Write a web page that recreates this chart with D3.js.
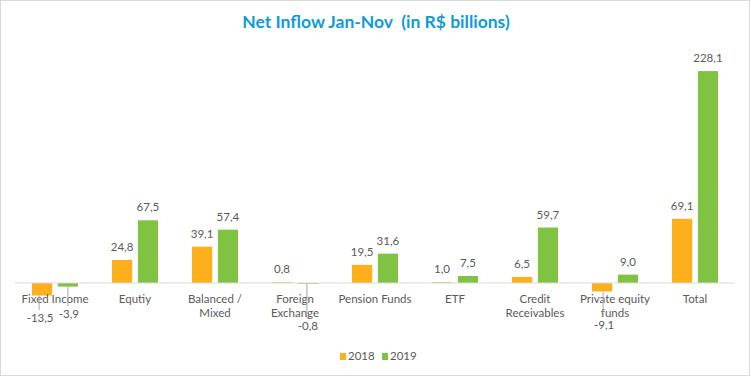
<!DOCTYPE html>
<html>
<head>
<meta charset="utf-8">
<script src="https://cdn.jsdelivr.net/npm/d3@7"></script>
<style>
  body { margin: 0; background: #fff; }
  svg text { font-family: Lato, "Open Sans", sans-serif; }
</style>
</head>
<body>
<div id="chart"></div>
<script>
var categories = [["Fixed Income"], ["Equtiy"], ["Balanced /", "Mixed"], ["Foreign", "Exchange"],
  ["Pension Funds"], ["ETF"], ["Credit", "Receivables"], ["Private equity", "funds"], ["Total"]];
var years = ["2018", "2019"];
var values2018 = [-13.5, 24.8, 39.1, 0.8, 19.5, 1.0, 6.5, -9.1, 69.1];
var values2019 = [-3.9, 67.5, 57.4, -0.8, 31.6, 7.5, 59.7, 9.0, 228.1];

var width = 751, height = 377;
var colors = {"2018": "#fdb01b", "2019": "#80c242"};
var textColor = "#595959";

var svg = d3.select('#chart').append('svg')
    .attr('width', width)
    .attr('height', height);

// chart area border
svg.append('rect')
    .attr('x', 0.5).attr('y', 0.5)
    .attr('width', width - 2).attr('height', height - 2)
    .attr('fill', '#fff')
    .attr('stroke', '#d9d9d9');

svg.append('text')
    .attr('x', 376)
    .attr('y', 28)
    .attr('text-anchor', 'middle')
    .attr('fill', '#0f9bd7')
    .attr('font-weight', 'bold')
    .attr('font-size', '17.5px')
    .attr('xml:space', 'preserve')
    .text('Net Inflow Jan-Nov  (in R$ billions)');

var x0 = d3.scaleBand()
    .domain(d3.range(categories.length))
    .range([15, 735]);

var x1 = d3.scaleBand()
    .domain(years)
    .range([17, 63])
    .paddingInner(0.22);

var y = d3.scaleLinear()
    .domain([-20, 240])
    .range([283 + 20 * 0.929, 283 - 240 * 0.929]);

var rows = categories.map(function (c, i) {
  return {i: i, label: c, vals: [{year: "2018", v: values2018[i]}, {year: "2019", v: values2019[i]}]};
});

// bars
var g = svg.selectAll('g.cat')
    .data(rows)
    .enter().append('g')
    .attr('class', 'cat')
    .attr('transform', function (d) { return 'translate(' + x0(d.i) + ',0)'; });

g.selectAll('rect')
    .data(function (d) { return d.vals; })
    .enter().append('rect')
    .attr('x', function (d) { return x1(d.year); })
    .attr('y', function (d) { return y(Math.max(0, d.v)); })
    .attr('width', x1.bandwidth())
    .attr('height', function (d) { return Math.abs(y(d.v) - y(0)); })
    .attr('fill', function (d) { return colors[d.year]; });

// zero line
svg.append('line')
    .attr('x1', 15).attr('x2', 735)
    .attr('y1', y(0)).attr('y2', y(0))
    .attr('stroke', '#d9d9d9')
    .attr('stroke-width', 1);

// category labels
g.append('text')
    .attr('text-anchor', 'middle')
    .attr('x', x0.bandwidth() / 2)
    .attr('y', 303)
    .attr('fill', textColor)
    .attr('font-size', '11.5px')
    .selectAll('tspan')
    .data(function (d) { return d.label; })
    .enter().append('tspan')
    .attr('x', x0.bandwidth() / 2)
    .attr('dy', function (d, i) { return i === 0 ? 0 : 14; })
    .text(function (d) { return d; });

// negative labels were dragged below the axis text in the original, with leader lines
var negLabelY = {"0-2018": 322, "0-2019": 318, "3-2019": 330, "7-2018": 329};
var negLabelDx = {"0-2018": -2, "0-2019": 1, "3-2019": 0, "7-2018": 2};

function fmt(v) { return v.toFixed(1).replace('.', ','); }

g.each(function (row) {
  var cat = d3.select(this);
  row.vals.forEach(function (d) {
    var cx = x1(d.year) + x1.bandwidth() / 2;
    if (d.v >= 0) {
      cat.append('text')
          .attr('x', cx)
          .attr('y', y(d.v) - 9)
          .attr('text-anchor', 'middle')
          .attr('fill', textColor)
          .attr('font-size', '11.5px')
          .text(fmt(d.v));
    } else {
      var key = row.i + '-' + d.year;
      var ly = negLabelY[key];
      var lx = cx + negLabelDx[key];
      cat.append('line')
          .attr('x1', lx - 1).attr('x2', lx - 1)
          .attr('y1', y(d.v))
          .attr('y2', ly - 12)
          .attr('stroke', '#a6a6a6')
          .attr('stroke-width', 1);
      cat.append('text')
          .attr('x', lx)
          .attr('y', ly)
          .attr('text-anchor', 'middle')
          .attr('fill', textColor)
          .attr('font-size', '11.5px')
          .text(fmt(d.v));
    }
  });
});

// legend
var legend = svg.append('g')
    .selectAll('g')
    .data(years)
    .enter().append('g')
    .attr('transform', function (d, i) { return 'translate(' + (340 + i * 42) + ',353)'; });

legend.append('rect')
    .attr('width', 6).attr('height', 7)
    .attr('fill', function (d) { return colors[d]; });

legend.append('text')
    .attr('x', 8)
    .attr('y', 7)
    .attr('fill', textColor)
    .attr('font-size', '11.5px')
    .text(function (d) { return d; });
</script>
</body>
</html>
